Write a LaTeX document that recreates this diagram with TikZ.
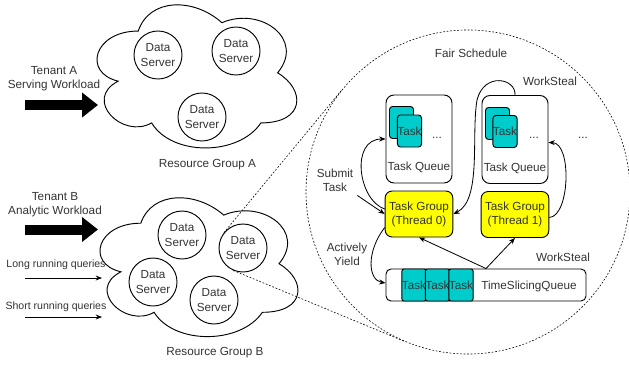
\documentclass[tikz,border=0pt]{standalone}
\usepackage{fontspec}
\setmainfont{Liberation Sans}
\usetikzlibrary{arrows.meta,calc}
\definecolor{taskcyan}{HTML}{00CCCC}
\definecolor{groupyellow}{HTML}{FFFF00}
\definecolor{inkgray}{HTML}{333333}
\tikzset{
  pics/drawiocloud/.style={code={
    \draw[line width=0.8pt] (0.25,0.25) .. controls (0.05,0.25) and (0,0.5) .. (0.16,0.55)
      .. controls (0,0.66) and (0.18,0.9) .. (0.31,0.8)
      .. controls (0.4,1) and (0.7,1) .. (0.8,0.8)
      .. controls (1,0.8) and (1,0.6) .. (0.875,0.5)
      .. controls (1,0.3) and (0.8,0.1) .. (0.625,0.2)
      .. controls (0.5,0.05) and (0.3,0.05) .. (0.25,0.25) -- cycle;
  }}
}
\begin{document}
\begin{tikzpicture}[x=0.03cm,y=-0.03cm,
  every node/.style={text=inkgray,font=\fontsize{10}{12}\selectfont},
  qlabel/.style={font=\fontsize{9}{10.5}\selectfont},
  server/.style={circle,draw,line width=0.8pt,minimum size=1.44cm,inner sep=0pt,align=center},
  queuebox/.style={draw,line width=0.8pt,rounded corners=0.24cm,minimum width=1.98cm,minimum height=2.64cm},
  groupbox/.style={draw,line width=0.8pt,fill=groupyellow,rounded corners=0.21cm,minimum width=1.98cm,minimum height=1.38cm,align=center},
  taskcard/.style={draw,line width=0.8pt,fill=taskcyan,rounded corners=0.09cm,minimum width=0.72cm,minimum height=0.96cm,inner sep=0pt},
  flow/.style={->,line width=0.7pt},
  >={Stealth[length=1.9mm,width=1.5mm]},
  tenantarrow/.style={line width=0.3cm,-{Triangle[length=0.48cm,width=0.72cm]}},
  zoomline/.style={dash pattern=on 1.5pt off 1.5pt,line width=0.5pt}]
  \useasboundingbox (0,0) rectangle (629,364);

  \pic[xscale=223,yscale=167] at (82.5,-10.7) {drawiocloud};
  \pic[xscale=221,yscale=162] at (85.6,182.7) {drawiocloud};

  \node[server] (dsA1) at (158,55) {Data\\Server};
  \node[server] (dsA2) at (236,51) {Data\\Server};
  \node[server] (dsA3) at (202,117) {Data\\Server};
  \node[server] (dsB1) at (182,235) {Data\\Server};
  \node[server] (dsB2) at (243,248) {Data\\Server};
  \node[server] (dsB3) at (153,282) {Data\\Server};
  \node[server] (dsB4) at (214,300) {Data\\Server};

  \node[align=center] (tenA) at (54,79) {Tenant A\\Serving Workload};
  \node[align=center] (tenB) at (55,205) {Tenant B\\Analytic Workload};
  \coordinate (tenAs) at (25,105);
  \coordinate (tenAe) at (98,105);
  \coordinate (tenBs) at (25,229.5);
  \coordinate (tenBe) at (98,229.5);
  \draw[tenantarrow] (tenAs) -- (tenAe);
  \draw[tenantarrow] (tenBs) -- (tenBe);

  \node[qlabel] (longq) at (56,265) {Long running queries};
  \node[qlabel] (shortq) at (56,307) {Short running queries};
  \coordinate (longqs) at (25,278);
  \coordinate (longqe) at (102,278);
  \coordinate (shortqs) at (25,317);
  \coordinate (shortqe) at (102,317);
  \draw[flow] (longqs) -- (longqe);
  \draw[flow] (shortqs) -- (shortqe);

  \node (rgA) at (207.5,165) {Resource Group A};
  \node (rgB) at (215,353) {Resource Group B};

  \node[circle,draw,zoomline,minimum size=9.72cm,inner sep=0pt] (fs) at (468,192) {};
  \node (fair) at (471,53) {Fair Schedule};

  \node[queuebox] (tq0) at (419,139) {};
  \node[queuebox] (tq1) at (515,139.5) {};
  \node[taskcard] (c0a) at (401.5,122.5) {};
  \node[taskcard] (c0b) at (409.5,131) {Task};
  \node[taskcard] (c1a) at (497.5,123.5) {};
  \node[taskcard] (c1b) at (505,131.5) {Task};
  \node (dots0) at (437,138) {...};
  \node (dots1) at (534,138) {...};
  \node (dots2) at (583,138) {...};
  \node (tq0lbl) at (419,167) {Task Queue};
  \node (tq1lbl) at (515,168) {Task Queue};

  \node[groupbox] (tg0) at (419,214) {Task Group\\(Thread 0)};
  \node[groupbox] (tg1) at (515,214.5) {Task Group\\(Thread 1)};

  \node[draw,line width=0.8pt,rounded corners=0.15cm,minimum width=6cm,minimum height=0.96cm] (tsq) at (486,285) {};
  \foreach \i/\x in {1/414,2/437.5,3/461}
    \node[taskcard,rounded corners=0.06cm,minimum width=0.705cm] (ts\i) at (\x,285) {Task};
  \node (tsqlbl) at (529,286) {TimeSlicingQueue};

  \node (wsup) at (550,81) {WorkSteal};
  \node (wslow) at (563,257) {WorkSteal};
  \node[align=center] (submit) at (335,180) {Submit\\Task};
  \node[align=center] (yield) at (347,254) {Actively\\Yield};

  \draw[flow] (submit.south east) -- (tg0.west);
  \draw[flow] ($(tg0.west)+(0,-5)$) .. controls (358,200) and (350,139) .. (tq0.west);
  \draw[flow] ($(tg1.east)+(0,3)$) .. controls (570,216) and (572,143) .. ($(tq1.east)+(0,3)$);
  \draw[flow] (tq1.north) .. controls (516,78) and (484,72) .. (477,100)
    .. controls (471,135) and (482,200) .. (tg0.east);
  \draw[flow] (tsq.north) -- (tg0.south);
  \draw[flow] (tsq.north) -- (tg1.south);
  \draw[flow] ($(tg0.south west)+(0,-10)$) .. controls (366,252) and (368,280) .. ($(tsq.west)+(0,-2)$);

  \coordinate (hc) at ($(dsB2.center)!-0.174!(fs.center)$);
  \coordinate (zt1) at (tangent cs:node=fs,point={(hc)},solution=1);
  \coordinate (zt2) at (tangent cs:node=fs,point={(hc)},solution=2);
  \coordinate (st1) at (tangent cs:node=dsB2,point={(hc)},solution=1);
  \coordinate (st2) at (tangent cs:node=dsB2,point={(hc)},solution=2);
  \draw[zoomline] (st1) -- (zt1);
  \draw[zoomline] (st2) -- (zt2);
\end{tikzpicture}
\end{document}
